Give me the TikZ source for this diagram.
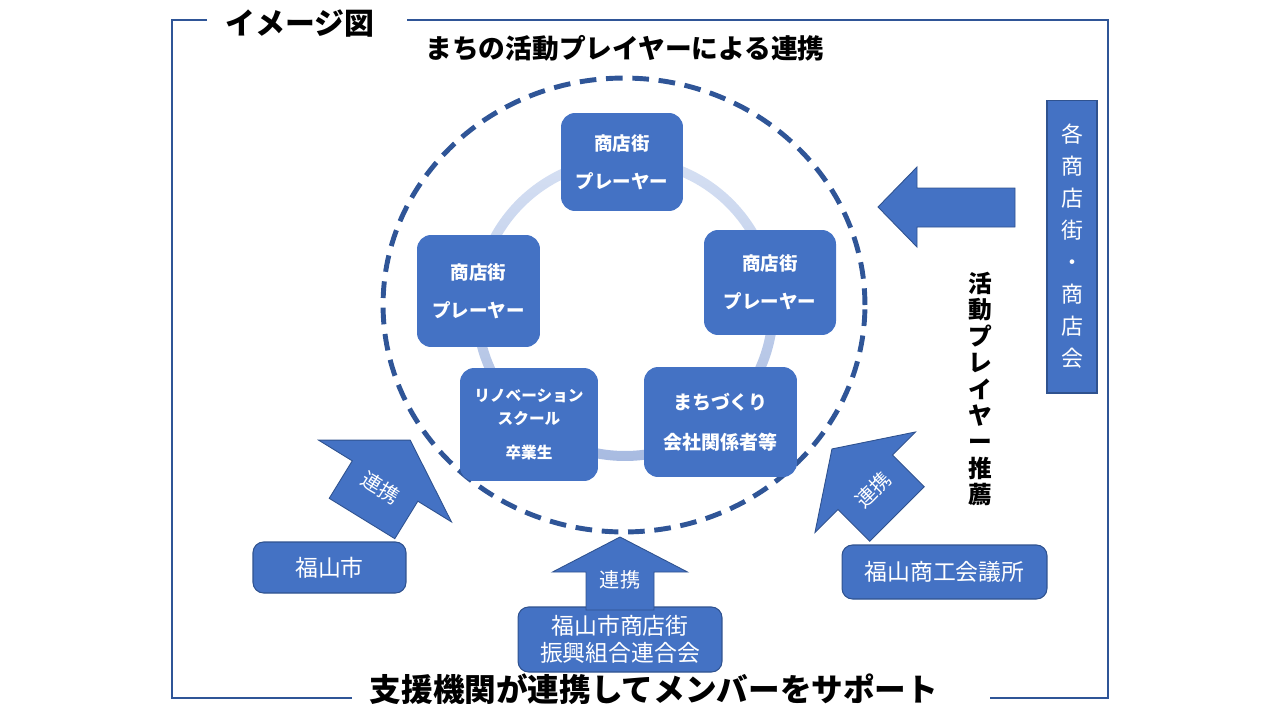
\documentclass[tikz,border=0pt]{standalone}
\usepackage{fontspec}
\setmainfont{Noto Sans CJK JP}
\usepackage{tikz}
\usetikzlibrary{positioning}
\definecolor{boxblue}{RGB}{68,114,196}
\definecolor{edgeblue}{RGB}{47,82,143}
\definecolor{frameblue}{RGB}{47,85,151}
\definecolor{ringlight}{RGB}{214,224,243}
\definecolor{ringdark}{RGB}{168,187,225}
\tikzset{
  player/.style={rounded corners=8pt, fill=boxblue, text=white, align=center, inner sep=0pt,
    font=\bfseries\fontsize{10.5}{21.6}\selectfont},
  support/.style={rounded corners=6pt, fill=boxblue, draw=edgeblue, line width=0.6pt, text=white,
    align=center, inner sep=0pt, font=\fontsize{13}{15.4}\selectfont},
  blockarrow/.style={fill=boxblue, draw=edgeblue, line width=0.5pt},
  arrowlabel/.style={text=white, inner sep=0pt, font=\fontsize{11.5}{13}\selectfont},
  frameline/.style={draw=frameblue, line width=1.1pt}
}

\begin{document}
\begin{tikzpicture}[x=0.02cm, y=-0.02cm]
  \useasboundingbox (0,0) rectangle (1280,720);

  % outer frame and titles
  \node[font=\bfseries\fontsize{17}{20}\selectfont] (zu) at (300,24) {イメージ図};
  \node[font=\bfseries\fontsize{15.2}{18}\selectfont] (theme) at (625,48) {まちの活動プレイヤーによる連携};
  \node[font=\bfseries\fontsize{18}{21}\selectfont] (motto) at (654,689) {支援機関が連携してメンバーをサポート};
  \draw[frameline] (207,20) -- (172,20) -- (172,698) -- (352,698);
  \draw[frameline] (990,698) -- (1108,698) -- (1108,20) -- (407,20);

  % circle of players
  \draw[draw=frameblue, line width=2.8pt, dash pattern=on 9.5pt off 5.5pt] (624,305) ellipse [x radius=4.82cm, y radius=4.54cm];
  \path[shade, top color=ringlight, bottom color=ringdark, even odd rule]
    (625,308) circle (3.06cm) (625,308) circle (2.86cm);

  \node[player, minimum width=2.44cm, minimum height=1.96cm] (ptop) at (622,162) {商店街\\プレーヤー};
  \node[player, minimum width=2.64cm, minimum height=2.1cm] (pright) at (770,282.5) {商店街\\プレーヤー};
  \node[player, minimum width=2.46cm, minimum height=2.24cm] (pleft) at (478.5,291) {商店街\\プレーヤー};
  \node[player, minimum width=2.76cm, minimum height=2.26cm, font=\bfseries\fontsize{8.9}{13}\selectfont]
    (renov) at (529,424.5) {リノベーション\\スクール\\[6pt]卒業生};
  \node[player, minimum width=3.06cm, minimum height=2.2cm, font=\bfseries\fontsize{10.8}{22.8}\selectfont]
    (town) at (720.5,422) {まちづくり\\会社関係者等};

  % recommendation from the shopping streets
  \node[fill=boxblue, draw=edgeblue, line width=0.6pt, minimum width=1cm, minimum height=5.86cm, inner sep=0pt,
    text=white, align=center, font=\fontsize{12.5}{18.2}\selectfont] (shops) at (1072,246.5)
    {各\\商\\店\\街\\・\\商\\店\\会};
  \draw[blockarrow] (1015,188) -- (917,188) -- (917,167) -- (878,207) -- (917,247) -- (917,227) -- (1015,227) -- cycle;
  \node[align=center, font=\bfseries\fontsize{13.5}{15}\selectfont] (recommend) at (980,389)
    {活\\動\\プ\\レ\\イ\\ヤ\\ー\\推\\薦};

  % support organisations
  \node[support, minimum width=3.06cm, minimum height=1.02cm] (city) at (329.5,567.5) {福山市};
  \node[support, minimum width=4.1cm, minimum height=1.08cm] (chamber) at (944.5,572) {福山商工会議所};
  \node[support, minimum width=4.08cm, minimum height=1.3cm] (union) at (620,639.5) {福山市商店街\\振興組合連合会};

  \begin{scope}[shift={(362,518.5)}, rotate=-31.6]
    \draw[blockarrow] (-38.5,0) -- (-38.5,-44) -- (-78,-44) -- (0,-92) -- (78,-44) -- (38.5,-44) -- (38.5,0) -- cycle;
    \node[arrowlabel, rotate=-31.6] (linkcity) at (0,-36) {連携};
  \end{scope}
  \begin{scope}[shift={(620,610)}]
    \draw[blockarrow] (-34,0) -- (-34,-38) -- (-67.5,-38) -- (0,-73) -- (67.5,-38) -- (34,-38) -- (34,0) -- cycle;
    \node[arrowlabel] (linkunion) at (0,-30) {連携};
  \end{scope}
  \begin{scope}[shift={(897,514)}, rotate=45]
    \draw[blockarrow] (-38.5,0) -- (-38.5,-45) -- (-71,-45) -- (0,-92) -- (71,-45) -- (38.5,-45) -- (38.5,0) -- cycle;
    \node[arrowlabel, rotate=45] (linkchamber) at (0,-34) {連携};
  \end{scope}
\end{tikzpicture}
\end{document}
